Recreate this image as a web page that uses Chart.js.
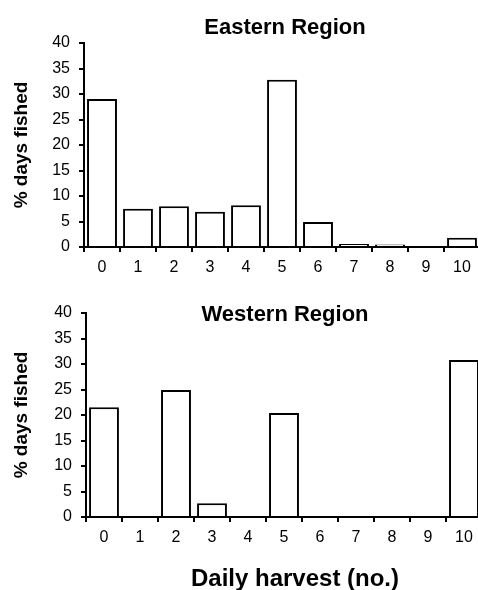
<!DOCTYPE html>
<html>
<head>
<meta charset="utf-8">
<script src="https://cdn.jsdelivr.net/npm/chart.js@4.4.1/dist/chart.umd.min.js"></script>
<style>
  html, body { margin: 0; padding: 0; background: #fff; overflow: hidden; }
  body { width: 478px; height: 590px; position: relative; }
  .panel { position: absolute; left: 0; }
  #eastPanel { top: 0; width: 480px; height: 290px; }
  #westPanel { top: 290px; width: 482px; height: 300px; }
</style>
</head>
<body>
<div class="panel" id="eastPanel"><canvas id="eastChart"></canvas></div>
<div class="panel" id="westPanel"><canvas id="westChart"></canvas></div>
<script>
// Daily harvest categories (number caught per day)
const harvestLabels = ['0', '1', '2', '3', '4', '5', '6', '7', '8', '9', '10'];

// % of days fished with each harvest
const easternPct = [29, 7.5, 8, 6.9, 8.2, 32.8, 4.9, 0.6, 0.5, 0, 1.8];
const westernPct = [21.5, 0, 24.9, 2.7, 0, 20.4, 0, 0, 0, 0, 30.8];

// y axis range
const yMin = 0;
const yMax = 40;
const yStep = 5;

const FONT = '"Liberation Sans", Arial, Helvetica, sans-serif';

// extra bold labels placed relative to the plot area
const panelText = {
  id: 'panelText',
  afterDraw(chart, args, opts) {
    const { ctx, chartArea } = chart;
    const cx = (chartArea.left + chartArea.right) / 2;
    ctx.save();
    ctx.fillStyle = '#000';
    ctx.textAlign = 'center';
    ctx.textBaseline = 'alphabetic';
    (opts.items || []).forEach(it => {
      ctx.font = 'bold ' + it.size + 'px ' + FONT;
      const y = it.fromBottom ? chartArea.bottom + it.dy : chartArea.top + it.dy;
      ctx.fillText(it.text, cx + it.dx, y);
    });
    ctx.restore();
  }
};

function makeChart(canvasId, values, texts, opt) {
  return new Chart(document.getElementById(canvasId), {
    type: 'bar',
    data: {
      labels: harvestLabels,
      datasets: [{
        data: values,
        backgroundColor: '#fff',
        borderColor: '#000',
        borderWidth: 2,
        barPercentage: 0.83,
        categoryPercentage: 1
      }]
    },
    plugins: [panelText],
    options: {
      responsive: true,
      maintainAspectRatio: false,
      animation: false,
      layout: { padding: { top: opt.top, left: 0, right: 0, bottom: 0 } },
      plugins: {
        legend: { display: false },
        tooltip: { enabled: false },
        panelText: { items: texts }
      },
      scales: {
        x: {
          offset: true,
          grid: {
            offset: true,
            drawOnChartArea: false,
            drawTicks: true,
            tickLength: 5,
            color: '#000',
            lineWidth: 2
          },
          border: { display: true, color: '#000', width: 2 },
          ticks: {
            color: '#000',
            padding: 6,
            maxRotation: 0,
            autoSkip: false,
            font: { family: FONT, size: 16 }
          },
          afterFit(scale) { scale.height = opt.xHeight; }
        },
        y: {
          min: yMin,
          max: yMax,
          grid: {
            drawOnChartArea: false,
            drawTicks: true,
            tickLength: 5,
            color: '#000',
            lineWidth: 2
          },
          border: { display: true, color: '#000', width: 2 },
          ticks: {
            stepSize: yStep,
            color: '#000',
            padding: 9,
            font: { family: FONT, size: 16 }
          },
          title: {
            display: true,
            text: '% days fished',
            color: '#000',
            padding: { top: 10, bottom: 0 },
            font: { family: FONT, size: 19, weight: 'bold' }
          },
          afterFit(scale) { scale.width = opt.yWidth; }
        }
      }
    }
  });
}

makeChart('eastChart', easternPct,
  [{ text: 'Eastern Region', size: 22, dx: 3, dy: -9 }],
  { top: 43, xHeight: 43, yWidth: 84 });

makeChart('westChart', westernPct,
  [{ text: 'Western Region', size: 22, dx: 1, dy: 8 },
   { text: 'Daily harvest (no.)', size: 24, dx: 11, dy: 69, fromBottom: true }],
  { top: 23, xHeight: 73, yWidth: 86 });
</script>
</body>
</html>
